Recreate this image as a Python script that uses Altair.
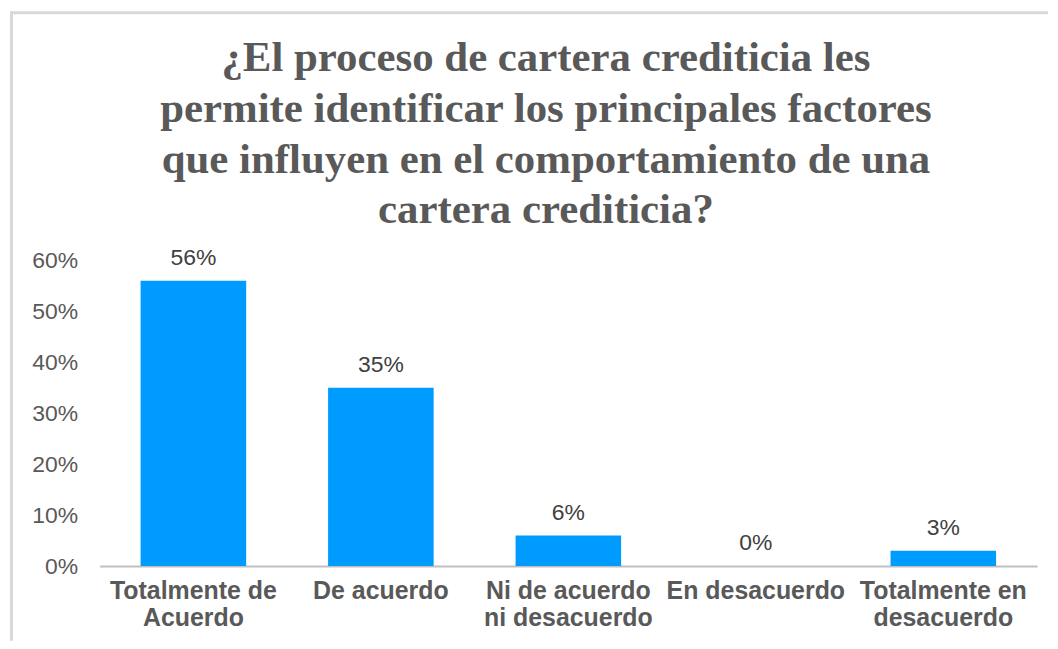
import json
import altair as alt
import pandas as pd

# ---- data ----
categories = [
    "Totalmente de Acuerdo",
    "De acuerdo",
    "Ni de acuerdo ni desacuerdo",
    "En desacuerdo",
    "Totalmente en desacuerdo",
]
label_lines = [
    ["Totalmente de", "Acuerdo"],
    ["De acuerdo"],
    ["Ni de acuerdo", "ni desacuerdo"],
    ["En desacuerdo"],
    ["Totalmente en", "desacuerdo"],
]
values = [0.56, 0.35, 0.06, 0.0, 0.03]
y_ticks = [0.0, 0.1, 0.2, 0.3, 0.4, 0.5, 0.6]
title_lines = [
    "¿El proceso de cartera crediticia les",
    "permite identificar los principales factores",
    "que influyen en el comportamiento de una",
    "cartera crediticia?",
]

df = pd.DataFrame({"categoria": categories, "valor": values})

# label expression for multi-line category labels
expr = ""
for c, lines in zip(categories, label_lines):
    expr += f"datum.value === '{c}' ? {json.dumps(lines)} : "
expr += "datum.label"

W, H = 941, 307
GREY_TXT = "#595959"

base = alt.Chart(df)

bars = base.mark_bar(color="#009BFF").encode(
    x=alt.X(
        "categoria:N",
        sort=categories,
        scale=alt.Scale(paddingInner=0.437, paddingOuter=0.2185),
        axis=alt.Axis(
            title=None,
            labelAngle=0,
            labelExpr=expr,
            labelFont="Liberation Sans",
            labelFontWeight="bold",
            labelFontSize=25,
            labelColor=GREY_TXT,
            labelLineHeight=27,
            labelPadding=13,
            labelLimit=300,
            ticks=False,
            domainColor="#BFBFBF",
            domainWidth=2,
            grid=False,
        ),
    ),
    y=alt.Y(
        "valor:Q",
        scale=alt.Scale(domain=[0, 0.6], nice=False),
        axis=alt.Axis(
            title=None,
            values=y_ticks,
            format=".0%",
            labelFont="Liberation Sans",
            labelFontSize=23,
            labelColor=GREY_TXT,
            labelPadding=22,
            ticks=False,
            domain=False,
            grid=False,
        ),
    ),
)

labels = base.mark_text(
    dy=-16,
    baseline="alphabetic",
    align="center",
    font="Liberation Sans",
    fontSize=23,
    color="#404040",
).encode(
    x=alt.X("categoria:N", sort=categories),
    y=alt.Y("valor:Q"),
    text=alt.Text("valor:Q", format=".0%"),
)

one = pd.DataFrame({"k": [0]})

title = alt.Chart(one).mark_text(
    font="Liberation Serif",
    fontWeight="bold",
    fontSize=43,
    lineHeight=51,
    color=GREY_TXT,
    align="center",
    baseline="alphabetic",
).encode(
    x=alt.value(448),
    y=alt.value(-190),
    text=alt.value(title_lines),
)

border_top = alt.Chart(one).mark_rule(color="#D9D9D9", strokeWidth=3).encode(
    x=alt.value(-90), x2=alt.value(952), y=alt.value(-248.5)
)
border_left = alt.Chart(one).mark_rule(color="#D9D9D9", strokeWidth=3).encode(
    x=alt.value(-88.5), y=alt.value(-250), y2=alt.value(382)
)

chart = (
    alt.layer(border_top, border_left, bars, labels, title)
    .properties(width=W, height=H, padding=0, background="white")
    .configure_view(strokeWidth=0)
)

chart.save("out.html", embed_options={"renderer": "svg", "actions": False})
